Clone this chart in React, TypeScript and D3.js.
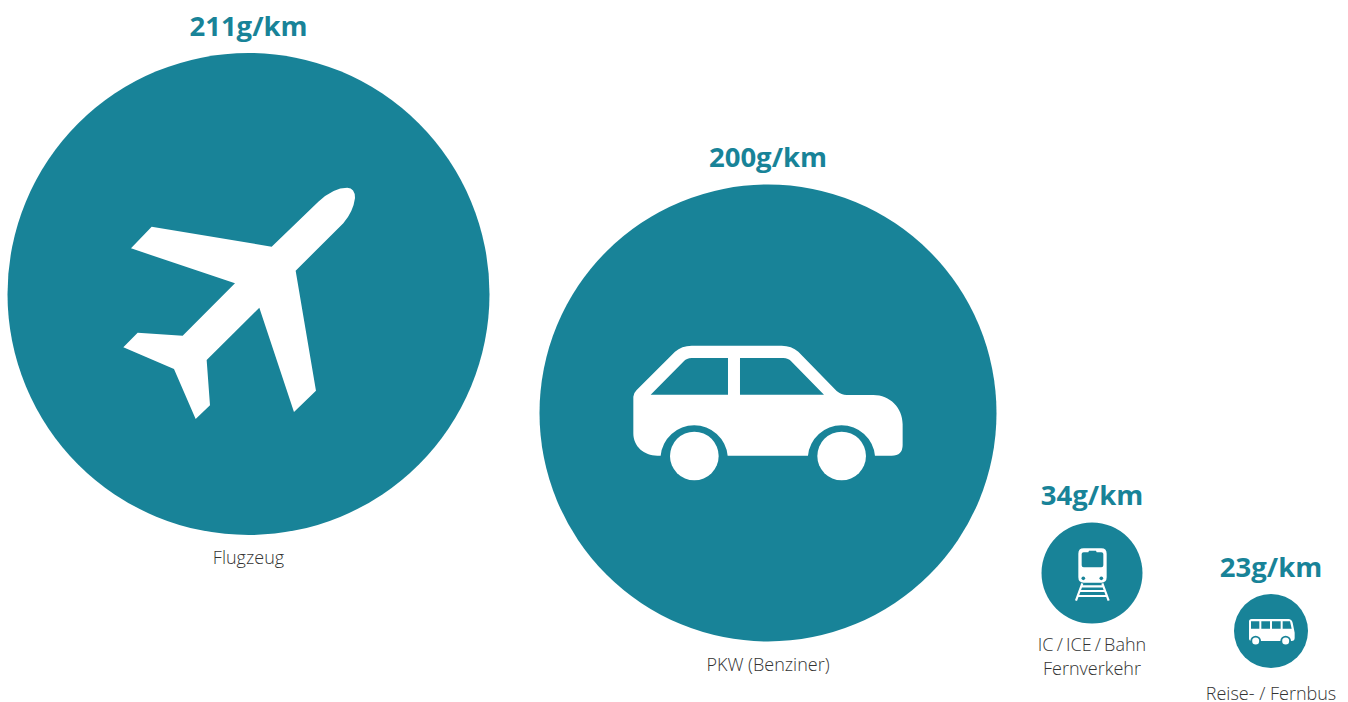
import React from "react";
import * as d3 from "d3";

// CO2 emissions per passenger kilometre, by means of transport
const categories = ["Flugzeug", "PKW (Benziner)", "IC / ICE / Bahn", "Reise- / Fernbus"];
const secondLines = ["", "", "Fernverkehr", ""];
const emissions = [211, 200, 34, 23];
const unit = "g/km";

const WIDTH = 1348;
const HEIGHT = 702;
const TEAL = "#188398";
const TEXT = "#333333";

// Bubble size and placement
const radius = d3.scaleLinear().domain([23, 34, 200, 211]).range([37, 50.5, 228.5, 241]);
const centerX = d3.scaleOrdinal<string, number>().domain(categories).range([248.5, 768, 1092, 1271]);
const centerY = d3.scaleOrdinal<string, number>().domain(categories).range([294, 413, 573, 631]);
const labelY = d3.scaleOrdinal<string, number>().domain(categories).range([564, 671, 651, 700]);

function PlaneIcon() {
  return (
    <g transform="translate(110,170) scale(0.3333)">
      <path
        fill="#fff"
        d="M625,95 Q670,53 712,53 Q736,55 735,85 Q730,125 700,160 L557,302 L618,662 L552,726 L448,413 L290,570 L300,706 L257,747 L192,597 L40,532 L83,488 L218,497 L375,340 L63,235 L125,170 L485,230 Z"
      />
    </g>
  );
}

function CarIcon() {
  return (
    <g transform="translate(620,335) scale(0.3333)">
      <path
        fill="#fff"
        fillRule="evenodd"
        d="M40,185 L40,295 C40,335 72,362 112,362 L122,362 A101,101 0 0 1 323,362 L564,362 A101,101 0 0 1 765,362 L815,362 Q848,362 848,330 L848,268 C848,218 810,180 760,180 L680,180 Q665,180 650,168 L535,50 Q515,32 485,32 L215,32 Q185,32 165,50 L50,165 Q40,175 40,185 Z M92,179 L190,80 Q200,69 215,69 L324,69 L324,179 Z M360,69 L490,69 Q505,69 515,80 L612,179 L360,179 Z"
      />
      <circle cx={223} cy={363} r={73} fill="#fff" />
      <circle cx={665} cy={363} r={73} fill="#fff" />
    </g>
  );
}

function TrainIcon() {
  return (
    <g transform="translate(1066,540) scale(0.3333)">
      <path
        fill="#fff"
        fillRule="evenodd"
        d="M53,25 L106,25 Q122,25 122,41 L122,112 Q122,128 106,128 L53,128 Q37,128 37,112 L37,41 Q37,25 53,25 Z M47,42 L47,76 Q47,82 53,82 L106,82 Q112,82 112,76 L112,42 Q112,37 106,37 L92,37 L90,32 L69,32 L67,37 L53,37 Q47,37 47,42 Z"
      />
      <circle cx={52} cy={115} r={5.5} fill={TEAL} />
      <circle cx={106} cy={115} r={5.5} fill={TEAL} />
      <path
        fill="none"
        stroke="#fff"
        strokeWidth={6.5}
        d="M49,130 L30,182 M109,130 L128,182 M46,139 L112,139 M42,153 L116,153 M36,168 L122,168"
      />
    </g>
  );
}

function BusIcon() {
  return (
    <g transform="translate(1240,610) scale(0.3333)">
      <path
        fill="#fff"
        fillRule="evenodd"
        d="M35,27 L145,27 Q155,27 158,38 L164,68 L164,84 Q164,93 155,93 L35,93 Q27,93 27,85 L27,35 Q27,27 35,27 Z M33,34 L33,56 L58,56 L58,34 Z M64,34 L64,56 L90,56 L90,34 Z M96,34 L96,56 L122,56 L122,34 Z M128,34 L128,56 L155,56 L150,34 Z"
      />
      <circle cx={47} cy={93} r={16} fill={TEAL} />
      <circle cx={137} cy={93} r={16} fill={TEAL} />
      <circle cx={47} cy={93} r={10.5} fill="#fff" />
      <circle cx={137} cy={93} r={10.5} fill="#fff" />
    </g>
  );
}

const icons = [PlaneIcon, CarIcon, TrainIcon, BusIcon];

export default function App() {
  return (
    <svg
      width={WIDTH}
      height={HEIGHT}
      viewBox={`0 0 ${WIDTH} ${HEIGHT}`}
      style={{ position: "absolute", left: 0, top: 0, background: "#fff" }}
    >
      {categories.map((name, i) => {
        const cx = centerX(name);
        const cy = centerY(name);
        const r = radius(emissions[i]);
        const Icon = icons[i];
        return (
          <g key={name}>
            <circle cx={cx} cy={cy} r={r} fill={TEAL} />
            <Icon />
            <text
              x={cx}
              y={cy - r - 17.5}
              textAnchor="middle"
              fill={TEAL}
              fontFamily="'Open Sans', sans-serif"
              fontWeight={700}
              fontSize={27.5}
            >
              {`${emissions[i]}${unit}`}
            </text>
            <text
              x={cx}
              y={labelY(name)}
              textAnchor="middle"
              fill={TEXT}
              fontFamily="'Open Sans', sans-serif"
              fontWeight={300}
              fontSize={18}
              wordSpacing={name.startsWith("IC") ? -1.5 : 0}
            >
              {name}
            </text>
            {secondLines[i] && (
              <text
                x={cx}
                y={labelY(name) + 24}
                textAnchor="middle"
                fill={TEXT}
                fontFamily="'Open Sans', sans-serif"
                fontWeight={300}
                fontSize={18}
              >
                {secondLines[i]}
              </text>
            )}
          </g>
        );
      })}
    </svg>
  );
}
